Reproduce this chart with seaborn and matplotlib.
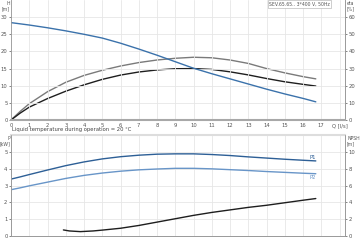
import matplotlib
matplotlib.use("Agg")
import matplotlib.pyplot as plt
import seaborn as sns
import pandas as pd

sns.set_style("white")
plt.rcParams['font.family'] = ['DejaVu Sans']

# ---- data ----
q = [0, 0.5, 1, 2, 3, 4, 5, 6, 7, 8, 9, 10, 11, 12, 13, 14, 15, 16, 16.7]
head_m = [28.4, 28.05, 27.7, 26.9, 26.0, 25.0, 23.9, 22.4, 20.7, 18.9, 17.0, 15.1, 13.5, 12.0, 10.5, 9.0, 7.6, 6.3, 5.3]
eta_hydr = [0, 5.0, 9.5, 16.5, 22.0, 26.0, 29.0, 31.5, 33.5, 35.0, 36.0, 36.6, 36.3, 35.0, 33.0, 30.0, 27.5, 25.3, 24.0]
eta_total = [0, 4.0, 7.5, 12.5, 16.8, 20.5, 23.7, 26.2, 28.0, 29.2, 29.9, 30.0, 29.5, 28.1, 26.3, 24.2, 22.3, 20.8, 19.8]
p1_kw = [3.38, 3.51, 3.65, 3.92, 4.18, 4.40, 4.58, 4.71, 4.80, 4.86, 4.88, 4.88, 4.84, 4.78, 4.70, 4.63, 4.56, 4.50, 4.46]
p2_kw = [2.75, 2.86, 2.98, 3.20, 3.42, 3.60, 3.74, 3.85, 3.93, 3.98, 4.02, 4.02, 3.99, 3.94, 3.89, 3.83, 3.78, 3.73, 3.70]
q_npsh = [2.87, 3.2, 3.8, 4.5, 5, 6, 7, 8, 9, 10, 11, 12, 13, 14, 15, 16, 16.7]
npsh_m = [0.72, 0.60, 0.52, 0.60, 0.70, 0.92, 1.25, 1.65, 2.05, 2.45, 2.80, 3.10, 3.40, 3.65, 3.95, 4.25, 4.45]
x_ticks = list(range(0, 18))
x_labels = [str(v) for v in x_ticks] + ["Q [l/s]"]
title_text = "SEV.65.65.. 3*400 V, 50Hz"
note_text = "Liquid temperature during operation = 20 \u00b0C"

df = pd.DataFrame({"Q": q, "H": head_m, "eta1": eta_hydr, "eta2": eta_total, "P1": p1_kw, "P2": p2_kw})
dfn = pd.DataFrame({"Q": q_npsh, "NPSH": npsh_m})

W, H = 360, 242
fig = plt.figure(figsize=(W / 100, H / 100), dpi=100)
fs = 3.8
grid_c = "#e6e6e6"
spine_c = "#9a9a9a"
blue = "#3b72ab"
p1_c = "#2d5f96"
p2_c = "#6895c8"

def frac(l, t, r, b):
    return [l / W, 1 - b / H, (r - l) / W, (b - t) / H]

xmax = 18.3

# ---- top panel ----
ax1 = fig.add_axes(frac(11, 0, 345, 120))
ax1r = ax1.twinx()
ax1.set_xlim(0, xmax)
ax1.set_ylim(0, 35)
ax1r.set_ylim(0, 70)
ax1.set_xticks(x_ticks + [18])
ax1.set_xticklabels(x_labels)
ax1.set_yticks(range(0, 35, 5))
ax1r.set_yticks(range(0, 70, 10))
ax1.grid(True, color=grid_c, lw=0.6)
sns.lineplot(data=df, x="Q", y="eta1", ax=ax1r, color="#7a7a7a", lw=1.0)
sns.lineplot(data=df, x="Q", y="eta2", ax=ax1r, color="#1e1e1e", lw=1.0)
sns.lineplot(data=df, x="Q", y="H", ax=ax1, color=blue, lw=1.0)
ax1.set_zorder(ax1r.get_zorder() + 1)
ax1.patch.set_visible(False)

# ---- bottom panel ----
ax2 = fig.add_axes(frac(11, 135, 345, 236))
ax2r = ax2.twinx()
ax2.set_xlim(0, xmax)
ax2.set_ylim(0, 6)
ax2r.set_ylim(0, 12)
ax2.set_xticks(x_ticks + [18])
ax2.set_xticklabels([])
ax2.set_yticks(range(0, 6))
ax2r.set_yticks(range(0, 12, 2))
ax2.grid(True, color=grid_c, lw=0.6)
sns.lineplot(data=df, x="Q", y="P1", ax=ax2, color=p1_c, lw=1.0)
sns.lineplot(data=df, x="Q", y="P2", ax=ax2, color=p2_c, lw=1.0)
sns.lineplot(data=dfn, x="Q", y="NPSH", ax=ax2r, color="#1e1e1e", lw=1.0)
ax2.text(q[-1], p1_kw[-1] + 0.08, "P1", color=p1_c, fontsize=fs, ha="right", va="bottom")
ax2.text(q[-1], p2_kw[-1] - 0.08, "P2", color=p2_c, fontsize=fs, ha="right", va="top")

for a in (ax1, ax1r, ax2, ax2r):
    a.set_xlabel("")
    a.set_ylabel("")
    a.tick_params(labelsize=fs, length=1.5, width=0.5, pad=1, colors="#555555")
    for s in a.spines.values():
        s.set_color(spine_c)
        s.set_linewidth(0.6)
    a.spines["top"].set_visible(False)

ax1.spines["bottom"].set_linewidth(1.5)
ax1.spines["bottom"].set_color("#a8a8a8")
ax2.spines["top"].set_visible(True)
ax2.spines["top"].set_color("#dddddd")
ax2.spines["top"].set_linewidth(1.5)
ax2.tick_params(axis="x", length=0)

# axis unit labels
fig.text(10 / W, 1 - 1 / H, "H\n[m]", fontsize=3.3, ha="right", va="top", color="#555555", linespacing=1.0)
fig.text(347 / W, 1 - 1 / H, "eta\n[%]", fontsize=3.3, ha="left", va="top", color="#555555", linespacing=1.0)
fig.text(10 / W, 1 - 136 / H, "P\n[kW]", fontsize=3.3, ha="right", va="top", color="#555555", linespacing=1.0)
fig.text(347 / W, 1 - 136 / H, "NPSH\n[m]", fontsize=3.3, ha="left", va="top", color="#555555", linespacing=1.0)
fig.text(12 / W, 1 - 130 / H, note_text, fontsize=fs, ha="left", va="center", color="#444444")
fig.text(330 / W, 1 - 4 / H, title_text, fontsize=3.3, ha="right", va="center", color="#555555",
         bbox=dict(facecolor="white", edgecolor="#aaaaaa", linewidth=0.4, pad=1.0))

fig.savefig("out.png", dpi=100)
